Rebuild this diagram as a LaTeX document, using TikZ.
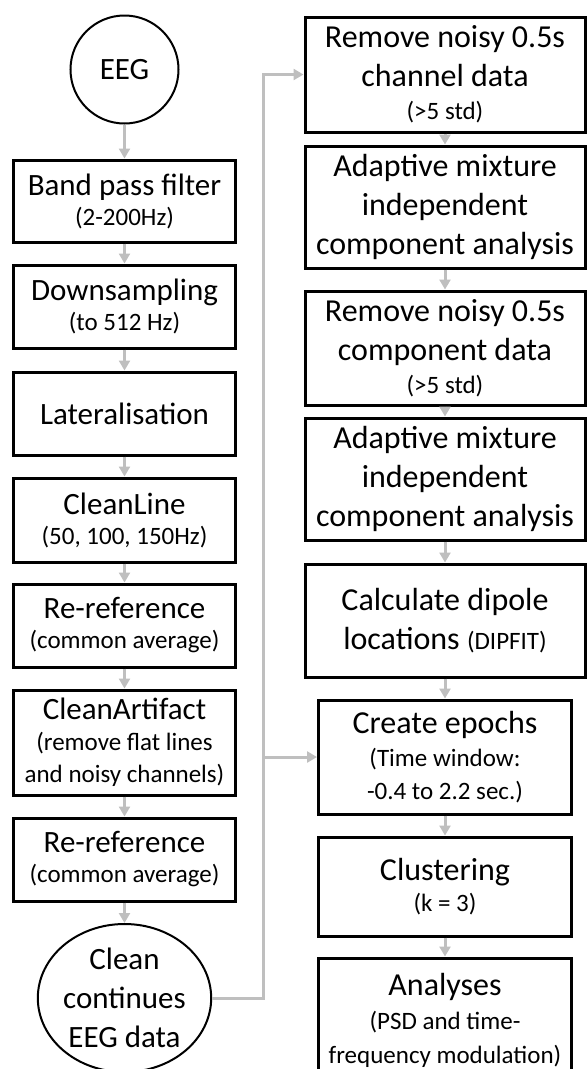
\documentclass[tikz,border=0pt]{standalone}
\usepackage{fontspec}
\setmainfont{Carlito}
\usetikzlibrary{arrows.meta,shapes.geometric}
\definecolor{conngray}{RGB}{191,191,191}
\newcommand\smtxt{\fontsize{25}{30}\selectfont}
\begin{document}
\begin{tikzpicture}[x=1pt,y=-1pt,
  box/.style={draw=black, line width=3pt, rectangle, inner sep=0pt, align=center},
  lbox/.style={box, minimum width=222pt, font=\fontsize{31}{38}\selectfont},
  wbox/.style={box, minimum width=280pt, font=\fontsize{32}{39}\selectfont},
  nbox/.style={box, minimum width=253pt, font=\fontsize{32}{39}\selectfont},
  conn/.style={draw=conngray, line width=3pt, -{Triangle[length=10pt,width=11pt]}}]
\clip (0,0) rectangle (587,1069);
% left column
\node[draw=black, line width=2pt, circle, minimum size=108pt, inner sep=0pt, font=\fontsize{31}{38}\selectfont] (eeg) at (124.5,69.5) {EEG};
\node[lbox, minimum height=82pt] (bp) at (124.5,201) {Band pass filter\\[-8pt]{\smtxt (2-200Hz)}};
\node[lbox, minimum height=83pt] (ds) at (124.5,306.5) {Downsampling\\[-8pt]{\smtxt (to 512 Hz)}};
\node[lbox, minimum height=83pt] (lat) at (124.5,413.5) {Lateralisation};
\node[lbox, minimum height=84pt] (cl) at (124.5,520) {CleanLine\\[-8pt]{\smtxt (50, 100, 150Hz)}};
\node[lbox, minimum height=83pt] (rr1) at (124.5,625.5) {Re-reference\\[-8pt]{\smtxt (common average)}};
\node[lbox, minimum height=105pt] (ca) at (124.5,742.5) {CleanArtifact\\[-7pt]{\smtxt (remove flat lines}\\[-6pt]{\smtxt and noisy channels)}};
\node[lbox, minimum height=83pt] (rr2) at (124.5,859.5) {Re-reference\\[-8pt]{\smtxt (common average)}};
\node[draw=black, line width=2pt, ellipse, minimum width=162pt, minimum height=148pt, inner sep=0pt, align=center, font=\fontsize{31}{39}\selectfont] (clean) at (124.5,998) {Clean\\continues\\EEG data};
% right column
\node[wbox, minimum height=115pt] (r1) at (445,74.5) {Remove noisy 0.5s\\channel data\\[-6pt]{\smtxt (>5 std)}};
\node[wbox, minimum height=122pt] (r2) at (445,207) {Adaptive mixture\\independent\\component analysis};
\node[wbox, minimum height=114pt] (r3) at (445,348) {Remove noisy 0.5s\\component data\\[-6pt]{\smtxt (>5 std)}};
\node[wbox, minimum height=122pt] (r4) at (445,479) {Adaptive mixture\\independent\\component analysis};
\node[wbox, minimum height=113pt] (r5) at (445,620.5) {Calculate dipole\\locations {\smtxt (DIPFIT)}};
\node[nbox, minimum height=114pt] (r6) at (445,757) {Create epochs\\[-6pt]{\smtxt (Time window:}\\[-6pt]{\smtxt -0.4 to 2.2 sec.)}};
\node[nbox, minimum height=99pt] (r7) at (445,886.5) {Clustering\\[-8pt]{\smtxt (k = 3)}};
\node[nbox, minimum height=124pt] (r8) at (445,1020) {Analyses\\[-5pt]{\smtxt (PSD and time-}\\[-5pt]{\smtxt frequency modulation)}};
% connectors
\draw[conn] (eeg) -- (bp);
\draw[conn] (bp) -- (ds);
\draw[conn] (ds) -- (lat);
\draw[conn] (lat) -- (cl);
\draw[conn] (cl) -- (rr1);
\draw[conn] (rr1) -- (ca);
\draw[conn] (ca) -- (rr2);
\draw[conn] (rr2) -- (clean);
\draw[conn] (r1) -- (r2);
\draw[conn] (r2) -- (r3);
\draw[conn] (r3) -- (r4);
\draw[conn] (r4) -- (r5);
\draw[conn] (r5) -- (r6);
\draw[conn] (r6) -- (r7);
\draw[conn] (r7) -- (r8);
\coordinate (bus) at (263,0);
\draw[conn] (clean.east) -| (bus |- r1.west) -- (r1.west);
\draw[conn] (bus |- r6.west) -- (r6.west);
\end{tikzpicture}
\end{document}
